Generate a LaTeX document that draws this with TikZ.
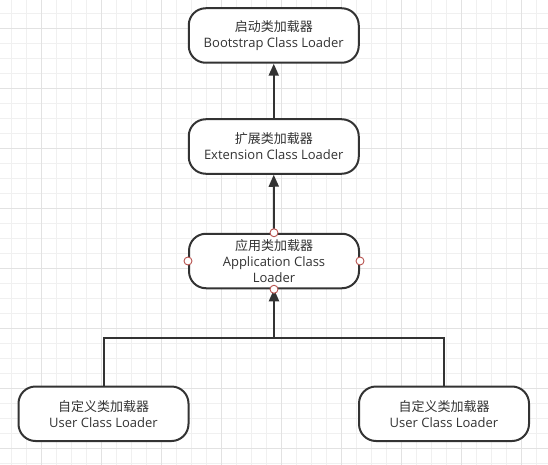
\documentclass[tikz,border=0pt]{standalone}
\usepackage{fontspec}
\setmainfont{Open Sans}
\newfontfamily\cjk{Noto Sans CJK SC}
\usetikzlibrary{arrows.meta}
\definecolor{ink}{HTML}{333333}
\definecolor{gridminor}{HTML}{F0F0F0}
\definecolor{gridmajor}{HTML}{E2E2E2}
\definecolor{ptred}{HTML}{B85450}
\tikzset{
  loader/.style={draw=ink, line width=2pt, fill=white, rounded corners=17pt,
    minimum width=170pt, minimum height=54.5pt, align=center, text=ink,
    font=\fontsize{13}{16}\selectfont, inner sep=0pt},
  link/.style={draw=ink, line width=2pt},
  arrowlink/.style={link, -{Triangle[length=12pt, width=10pt]}},
  cpoint/.style={circle, draw=ptred, line width=0.9pt, fill=white, minimum size=8pt, inner sep=0pt}
}
\begin{document}
\begin{tikzpicture}[x=1pt, y=-1pt]
  \useasboundingbox (0,0) rectangle (548,465);
  \fill[white] (0,0) rectangle (548,465);
  % grid
  \foreach \k in {0,...,36} {
    \draw[gridminor, line width=1pt] ({11.5+15*\k},0) -- ({11.5+15*\k},465);
  }
  \foreach \k in {0,...,30} {
    \draw[gridminor, line width=1pt] (0,{13.3+15*\k}) -- (548,{13.3+15*\k});
  }
  \foreach \k in {0,...,8} {
    \draw[gridmajor, line width=1pt] ({41.5+60*\k},0) -- ({41.5+60*\k},465);
  }
  \foreach \k in {0,...,7} {
    \draw[gridmajor, line width=1pt] (0,{28.3+60*\k}) -- (548,{28.3+60*\k});
  }
  % nodes
  \node[loader] (boot) at (273.75,35.5) {{\cjk 启动类加载器}\\Bootstrap Class Loader};
  \node[loader] (ext) at (273.75,146.5) {{\cjk 扩展类加载器}\\Extension Class Loader};
  \node[loader] (app) at (274,261) {{\cjk 应用类加载器}\\Application Class\\Loader};
  \node[loader] (user1) at (103.5,413.75) {{\cjk 自定义类加载器}\\User Class Loader};
  \node[loader] (user2) at (444,413.75) {{\cjk 自定义类加载器}\\User Class Loader};
  \coordinate (join) at (274,337.5);
  % connectors
  \draw[arrowlink] (ext.north) -- (boot.south);
  \draw[arrowlink] (app.north) -- (ext.south);
  \draw[link, rounded corners=0pt] (user1.north) |- (join) -| (user2.north);
  \draw[arrowlink] (join) -- (app.south);
  % connection points
  \node[cpoint] (pn) at (app.north) {};
  \node[cpoint] (ps) at (app.south) {};
  \node[cpoint] (pw) at (app.west) {};
  \node[cpoint] (pe) at (app.east) {};
\end{tikzpicture}
\end{document}
